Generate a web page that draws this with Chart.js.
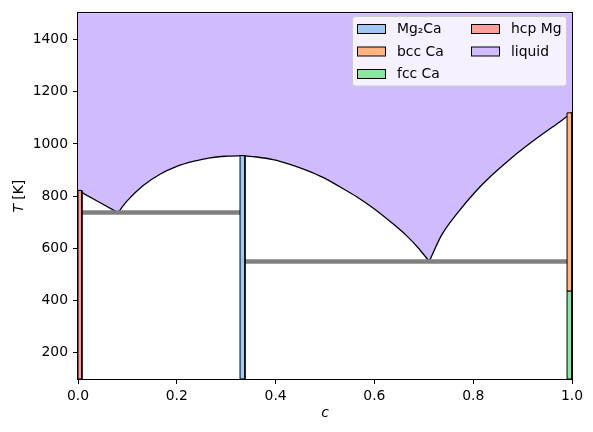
<!DOCTYPE html>
<html>
<head>
<meta charset="utf-8">
<script src="https://cdn.jsdelivr.net/npm/chart.js@4/dist/chart.umd.min.js"></script>
<style>
  body { margin: 0; background: #fff; }
  canvas { display: block; }
</style>
</head>
<body>
<canvas id="chart" width="593" height="432"></canvas>
<script>
// tick labels
const xTicks = [0, 0.2, 0.4, 0.6, 0.8, 1.0];
const yTicks = [200, 400, 600, 800, 1000, 1200, 1400];

// solid phases: composition range and temperature range
const phaseNames = ['Mg₂Ca', 'bcc Ca', 'fcc Ca', 'hcp Mg'];
const phaseC0 = [0.328, 0.99, 0.99, 0.0];
const phaseC1 = [0.338, 1.0, 1.0, 0.008];
const phaseT0 = [100, 437, 100, 100];
const phaseT1 = [955, 1119, 437, 822];
const phaseColors = ['#a1c9f4', '#ffb482', '#8de5a1', '#ff9f9b'];

// eutectic lines
const eutT = [737, 550];
const eutC0 = [0.008, 0.338];
const eutC1 = [0.328, 0.99];

// liquidus, one branch per list
const liqC1 = [0, 0.081];
const liqT1 = [822, 737];
const liqC2 = [0.081, 0.0985, 0.132, 0.166, 0.200, 0.233, 0.267, 0.301, 0.333];
const liqT2 = [737, 780, 841, 884, 914, 933, 947, 953, 955];
const liqC3 = [0.333, 0.362, 0.395, 0.429, 0.463, 0.497, 0.530, 0.564, 0.598, 0.632, 0.665, 0.692, 0.711];
const liqT3 = [955, 950, 940, 922, 899, 871, 836, 798, 754, 703, 649, 595, 550];
const liqC4 = [0.711, 0.736, 0.770, 0.804, 0.837, 0.871, 0.905, 0.939, 0.972, 1.0];
const liqT4 = [550, 651, 740, 816, 879, 936, 988, 1036, 1080, 1121];

const liquidColor = '#d0bbff';
const FONT = 'DejaVu Sans';
const FS = 13.9;

const pts = (cs, ts) => cs.map((c, i) => ({x: c, y: ts[i]}));

const datasets = [];

phaseNames.forEach((name, i) => {
  datasets.push({
    label: name,
    data: pts([phaseC0[i], phaseC0[i], phaseC1[i], phaseC1[i], phaseC0[i]],
              [phaseT0[i], phaseT1[i], phaseT1[i], phaseT0[i], phaseT0[i]]),
    backgroundColor: phaseColors[i],
    borderColor: '#000',
    borderWidth: 1,
    fill: 'shape',
    tension: 0
  });
});

eutT.forEach((t, i) => {
  datasets.push({
    label: 'eutectic',
    data: pts([eutC0[i], eutC1[i]], [t, t]),
    borderColor: '#808080',
    borderWidth: 4.5,
    fill: false
  });
});

[[liqC1, liqT1], [liqC2, liqT2], [liqC3, liqT3], [liqC4, liqT4]].forEach(([c, t]) => {
  datasets.push({
    label: 'liquid',
    liquidus: true,
    data: pts(c, t),
    borderColor: '#000',
    borderWidth: 1.3,
    fill: false,
    cubicInterpolationMode: 'monotone'
  });
});

// one fill above all liquidus branches, so there are no seams
const liquidFill = {
  id: 'liquidFill',
  beforeDatasetsDraw(chart) {
    const {ctx, chartArea: a} = chart;
    ctx.save();
    ctx.beginPath();
    let first = true;
    chart.data.datasets.forEach((ds, i) => {
      if (!ds.liquidus) return;
      const el = chart.getDatasetMeta(i).data;
      el.forEach((p, j) => {
        if (first) { ctx.moveTo(p.x, p.y); first = false; }
        else if (j === 0) ctx.lineTo(p.x, p.y);
        else {
          const q = el[j - 1];
          ctx.bezierCurveTo(q.cp2x, q.cp2y, p.cp1x, p.cp1y, p.x, p.y);
        }
      });
    });
    ctx.lineTo(a.right, a.top);
    ctx.lineTo(a.left, a.top);
    ctx.closePath();
    ctx.fillStyle = liquidColor;
    ctx.fill();
    ctx.restore();
  },
  afterDatasetsDraw(chart) {
    const {ctx, chartArea: a} = chart;
    ctx.save();
    ctx.strokeStyle = '#000';
    ctx.lineWidth = 1;
    ctx.strokeRect(Math.round(a.left) - 0.5, Math.round(a.top) - 0.5,
                   Math.round(a.width) + 1, Math.round(a.height) + 1);
    ctx.restore();
  },
  afterDraw(chart) {
    const {ctx, chartArea: a} = chart;
    ctx.save();
    // y axis title, T in italics
    ctx.translate(19, (a.top + a.bottom) / 2);
    ctx.rotate(-Math.PI / 2);
    ctx.fillStyle = '#000';
    ctx.textBaseline = 'middle';
    const fi = 'italic ' + FS + 'px "' + FONT + '"';
    const fn = FS + 'px "' + FONT + '"';
    ctx.font = fi; const w1 = ctx.measureText('T').width;
    ctx.font = fn; const w2 = ctx.measureText(' [K]').width;
    let x = -(w1 + w2) / 2;
    ctx.font = fi; ctx.fillText('T', x, 0);
    ctx.font = fn; ctx.fillText(' [K]', x + w1, 0);
    ctx.restore();

    // legend, two columns
    ctx.save();
    const bx = 352.5, by = 16.5, bw = 214, bh = 69.5;
    ctx.beginPath();
    ctx.roundRect(bx, by, bw, bh, 3);
    ctx.fillStyle = 'rgba(255,255,255,0.8)';
    ctx.fill();
    ctx.strokeStyle = '#cccccc';
    ctx.lineWidth = 1;
    ctx.stroke();
    const entries = phaseNames.map((n, i) => [n, phaseColors[i]]).concat([['liquid', liquidColor]]);
    const cols = [357, 471];
    const rows = [29, 51.5, 74];
    ctx.font = fn;
    ctx.textBaseline = 'middle';
    entries.forEach(([name, col], k) => {
      const cx = cols[k < 3 ? 0 : 1];
      const cy = rows[k < 3 ? k : k - 3];
      ctx.fillStyle = col;
      ctx.fillRect(cx + 0.5, cy - 4.5, 28, 9);
      ctx.strokeStyle = '#000';
      ctx.strokeRect(cx + 0.5, cy - 4.5, 28, 9);
      ctx.fillStyle = '#000';
      ctx.fillText(name, cx + 40, cy + 0.5);
    });
    ctx.restore();
  }
};

new Chart(document.getElementById('chart'), {
  type: 'line',
  data: { datasets: datasets },
  options: {
    responsive: false,
    animation: false,
    events: [],
    layout: { padding: { left: 0, right: 21, top: 10, bottom: 0 } },
    elements: { point: { radius: 0 } },
    plugins: { legend: { display: false }, tooltip: { enabled: false } },
    scales: {
      x: {
        type: 'linear',
        min: 0, max: 1,
        afterBuildTicks: s => { s.ticks = xTicks.map(v => ({value: v})); },
        afterFit: s => { s.height = 53; },
        ticks: {
          color: '#000', padding: 4, maxRotation: 0,
          font: { family: FONT, size: FS },
          callback: v => v.toFixed(1)
        },
        grid: { drawOnChartArea: false, color: '#000', tickLength: 5 },
        border: { display: false },
        title: {
          display: true, text: 'c', color: '#000',
          font: { family: FONT, size: FS, style: 'italic' },
          padding: { top: 0, bottom: 10 }
        }
      },
      y: {
        type: 'linear',
        min: 100, max: 1500,
        afterBuildTicks: s => { s.ticks = yTicks.map(v => ({value: v})); },
        afterFit: s => { s.width = 78; },
        ticks: {
          color: '#000', padding: 5,
          font: { family: FONT, size: FS },
          callback: v => String(v)
        },
        grid: { drawOnChartArea: false, color: '#000', tickLength: 5 },
        border: { display: false }
      }
    }
  },
  plugins: [liquidFill]
});
</script>
</body>
</html>
